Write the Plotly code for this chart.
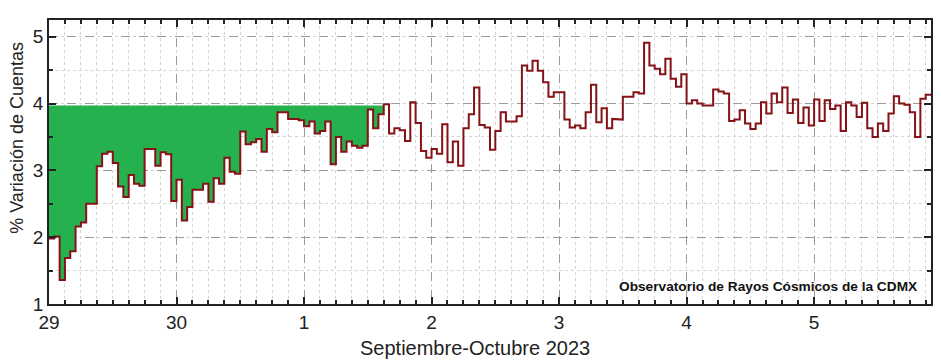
import numpy as np
import pandas as pd
import plotly.graph_objects as go

# Hourly % variation of counts, starting 2023-09-29 00:00
start = "2023-09-29 00:00"
values = [
    1.98, 2.01, 1.36, 1.69, 1.79, 2.16, 2.22, 2.50, 2.50, 3.06, 3.25, 3.28,
    3.11, 2.76, 2.60, 2.93, 2.80, 2.77, 3.32, 3.32, 3.07, 3.27, 3.24, 2.54,
    2.86, 2.25, 2.45, 2.71, 2.71, 2.80, 2.53, 2.88, 2.80, 3.19, 2.98, 2.95,
    3.58, 3.39, 3.42, 3.47, 3.28, 3.62, 3.57, 3.87, 3.87, 3.77, 3.77, 3.75,
    3.66, 3.73, 3.55, 3.59, 3.73, 3.09, 3.50, 3.28, 3.43, 3.37, 3.34, 3.37,
    3.91, 3.63, 3.84, 3.99, 3.55, 3.63, 3.60, 3.44, 4.02, 3.71, 3.29, 3.19,
    3.32, 3.25, 3.69, 3.12, 3.43, 3.07, 3.63, 3.84, 4.24, 3.68, 3.64, 3.31,
    3.59, 3.87, 3.73, 3.73, 3.81, 4.57, 4.49, 4.64, 4.49, 4.32, 4.10, 4.17,
    4.17, 3.76, 3.64, 3.67, 3.63, 3.87, 4.28, 3.72, 3.93, 3.63, 3.77, 3.76,
    4.10, 4.10, 4.17, 4.15, 4.91, 4.57, 4.52, 4.44, 4.67, 4.37, 4.25, 4.44,
    4.00, 4.05, 4.00, 3.97, 3.97, 4.21, 4.18, 4.15, 3.74, 3.76, 3.90, 3.70,
    3.62, 3.70, 4.02, 3.85, 4.15, 4.02, 4.24, 3.86, 4.06, 3.71, 3.94, 3.67,
    4.06, 3.74, 4.05, 3.92, 3.97, 3.59, 4.02, 3.97, 3.80, 4.01, 3.63, 3.50,
    3.70, 3.59, 3.85, 4.11, 4.00, 3.98, 3.87, 3.50, 4.07, 4.13,
]
fill_level = 3.97
fill_hours = 63  # shaded span from the start (hours)

tick_dates = ["2023-09-29", "2023-09-30", "2023-10-01", "2023-10-02",
              "2023-10-03", "2023-10-04", "2023-10-05"]
tick_labels = ["29", "30", "1", "2", "3", "4", "5"]
x_title = "Septiembre-Octubre 2023"
y_title = "% Variación de Cuentas"
credit = "Observatorio de Rayos Cósmicos de la CDMX"

n = len(values)
t0 = pd.Timestamp(start)
edges = t0 + pd.to_timedelta(np.arange(n + 1), unit="h")
vals = np.array(values)

# step path
sx, sy = [], []
for i in range(n):
    sx += [edges[i], edges[i + 1]]
    sy += [vals[i], vals[i]]

# fill polygon between step and fill level
fx, fy = [], []
for i in range(fill_hours):
    fx += [edges[i], edges[i + 1]]
    fy += [vals[i], vals[i]]
fx += [edges[fill_hours], edges[0], edges[0]]
fy += [fill_level, fill_level, vals[0]]

fig = go.Figure()
fig.add_trace(go.Scatter(x=fx, y=fy, mode="lines", fill="toself",
                         fillcolor="#25B14D", line=dict(width=0),
                         hoverinfo="skip", showlegend=False))
fig.add_trace(go.Scatter(x=sx, y=sy, mode="lines",
                         line=dict(color="#841216", width=2),
                         showlegend=False))

FONT = "Liberation Sans, Arial, sans-serif"
tick_font = dict(family=FONT, size=19, color="#222")

fig.update_xaxes(
    range=[edges[0], edges[-1]], automargin=False,
    tickvals=pd.to_datetime(tick_dates), ticktext=tick_labels,
    showgrid=True, gridcolor="#9a9a9a", griddash="dash", gridwidth=1,
    showline=True, linecolor="#222", linewidth=1.5, mirror="ticks",
    ticks="inside", ticklen=7, tickwidth=1.5, tickcolor="#222",
    tickfont=tick_font, zeroline=False,
    minor=dict(dtick=3 * 3600 * 1000, showgrid=True, gridcolor="#d4d4d4",
               griddash="dot", gridwidth=1, ticks="inside", ticklen=4,
               tickcolor="#222"),
)
fig.update_yaxes(
    range=[1, 5.25], tickvals=[1, 2, 3, 4, 5], automargin=False,
    showgrid=True, gridcolor="#9a9a9a", griddash="dash", gridwidth=1,
    showline=True, linecolor="#222", linewidth=1.5, mirror="ticks",
    ticks="inside", ticklen=7, tickwidth=1.5, tickcolor="#222",
    tickfont=tick_font, zeroline=False,
    minor=dict(dtick=0.5, showgrid=True, gridcolor="#d4d4d4",
               griddash="dot", gridwidth=1, ticks="inside", ticklen=4,
               tickcolor="#222"),
)

fig.add_annotation(
    text=x_title, xref="paper", yref="paper", x=0.483, y=-0.155,
    xanchor="center", yanchor="middle", showarrow=False,
    font=dict(family=FONT, size=20, color="#222"),
)
fig.add_annotation(
    text=y_title, xref="paper", yref="paper", x=-0.0365, y=0.5845,
    xanchor="center", yanchor="middle", showarrow=False, textangle=-90,
    font=dict(family=FONT, size=18, color="#222"),
)
fig.add_annotation(
    text="<b>" + credit + "</b>",
    xref="paper", yref="paper", x=0.9875, y=0.06, xanchor="right", yanchor="middle",
    showarrow=False,
    font=dict(family=FONT, size=13.7, color="#111"),
)

# page body adds an 8px offset; size the figure so the plot lands where intended
fig.update_layout(
    width=933, height=352,
    margin=dict(l=41, r=10, t=12, b=56),
    paper_bgcolor="white", plot_bgcolor="white",
)

fig.write_html("out.html")
